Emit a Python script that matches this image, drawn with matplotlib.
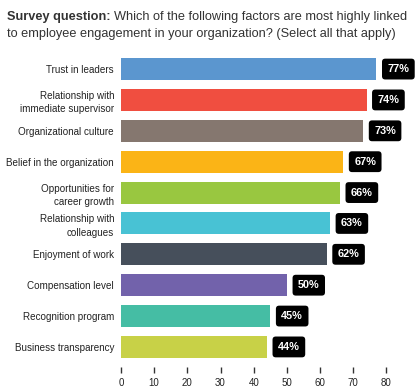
import matplotlib.pyplot as plt

plt.rcParams['font.family'] = ['Liberation Sans', 'DejaVu Sans']

# data
factors = ['Trust in leaders', 'Relationship with\nimmediate supervisor', 'Organizational culture',
           'Belief in the organization', 'Opportunities for\ncareer growth',
           'Relationship with\ncolleagues', 'Enjoyment of work', 'Compensation level',
           'Recognition program', 'Business transparency']
values = [77, 74, 73, 67, 66, 63, 62, 50, 45, 44]
colors = ['#5b96cf', '#f04e40', '#85776f', '#fbb416', '#99c740',
          '#48c2d4', '#464f5b', '#7262ab', '#45bda4', '#c8d147']
xticks = [0, 10, 20, 30, 40, 50, 60, 70, 80]

fig = plt.figure(figsize=(4.18, 3.91), dpi=100)

# title: bold lead-in followed by normal text
t1 = fig.text(7 / 418, 1 - 17 / 391, 'Survey question:', fontsize=9.2, fontweight='bold',
              color='#333333', va='center', ha='left')
fig.canvas.draw()
bb = t1.get_window_extent()
fig.text((bb.x1 + 3) / 418, 1 - 17 / 391, 'Which of the following factors are most highly linked',
         fontsize=9.2, color='#333333', va='center', ha='left')
fig.text(7 / 418, 1 - 34 / 391, 'to employee engagement in your organization? (Select all that apply)',
         fontsize=9.2, color='#333333', va='center', ha='left')

ax = fig.add_axes([121 / 418, 24 / 391, 282 / 418, 318 / 391])
y = list(range(len(factors)))
ax.barh(y, values, height=0.71, color=colors)
ax.set_ylim(9.65, -0.65)
ax.set_xlim(0, 85)

for yi, v in zip(y, values):
    ax.text(v + 6.6, yi, f'{v}%', ha='center', va='center', fontsize=7.8,
            fontweight='bold', color='white',
            bbox=dict(boxstyle='round,pad=0.5,rounding_size=0.3', fc='black', ec='none'))

ax.set_yticks(y)
ax.set_yticklabels(factors, fontsize=7.1, color='#222222', linespacing=1.4)
ax.tick_params(axis='y', length=0, pad=5)
ax.set_xticks(xticks)
ax.tick_params(axis='x', direction='out', length=4, width=1, color='#333333',
               labelsize=7, labelcolor='#222222', pad=4)
for s in ax.spines.values():
    s.set_visible(False)

fig.savefig('out.png', dpi=100)
